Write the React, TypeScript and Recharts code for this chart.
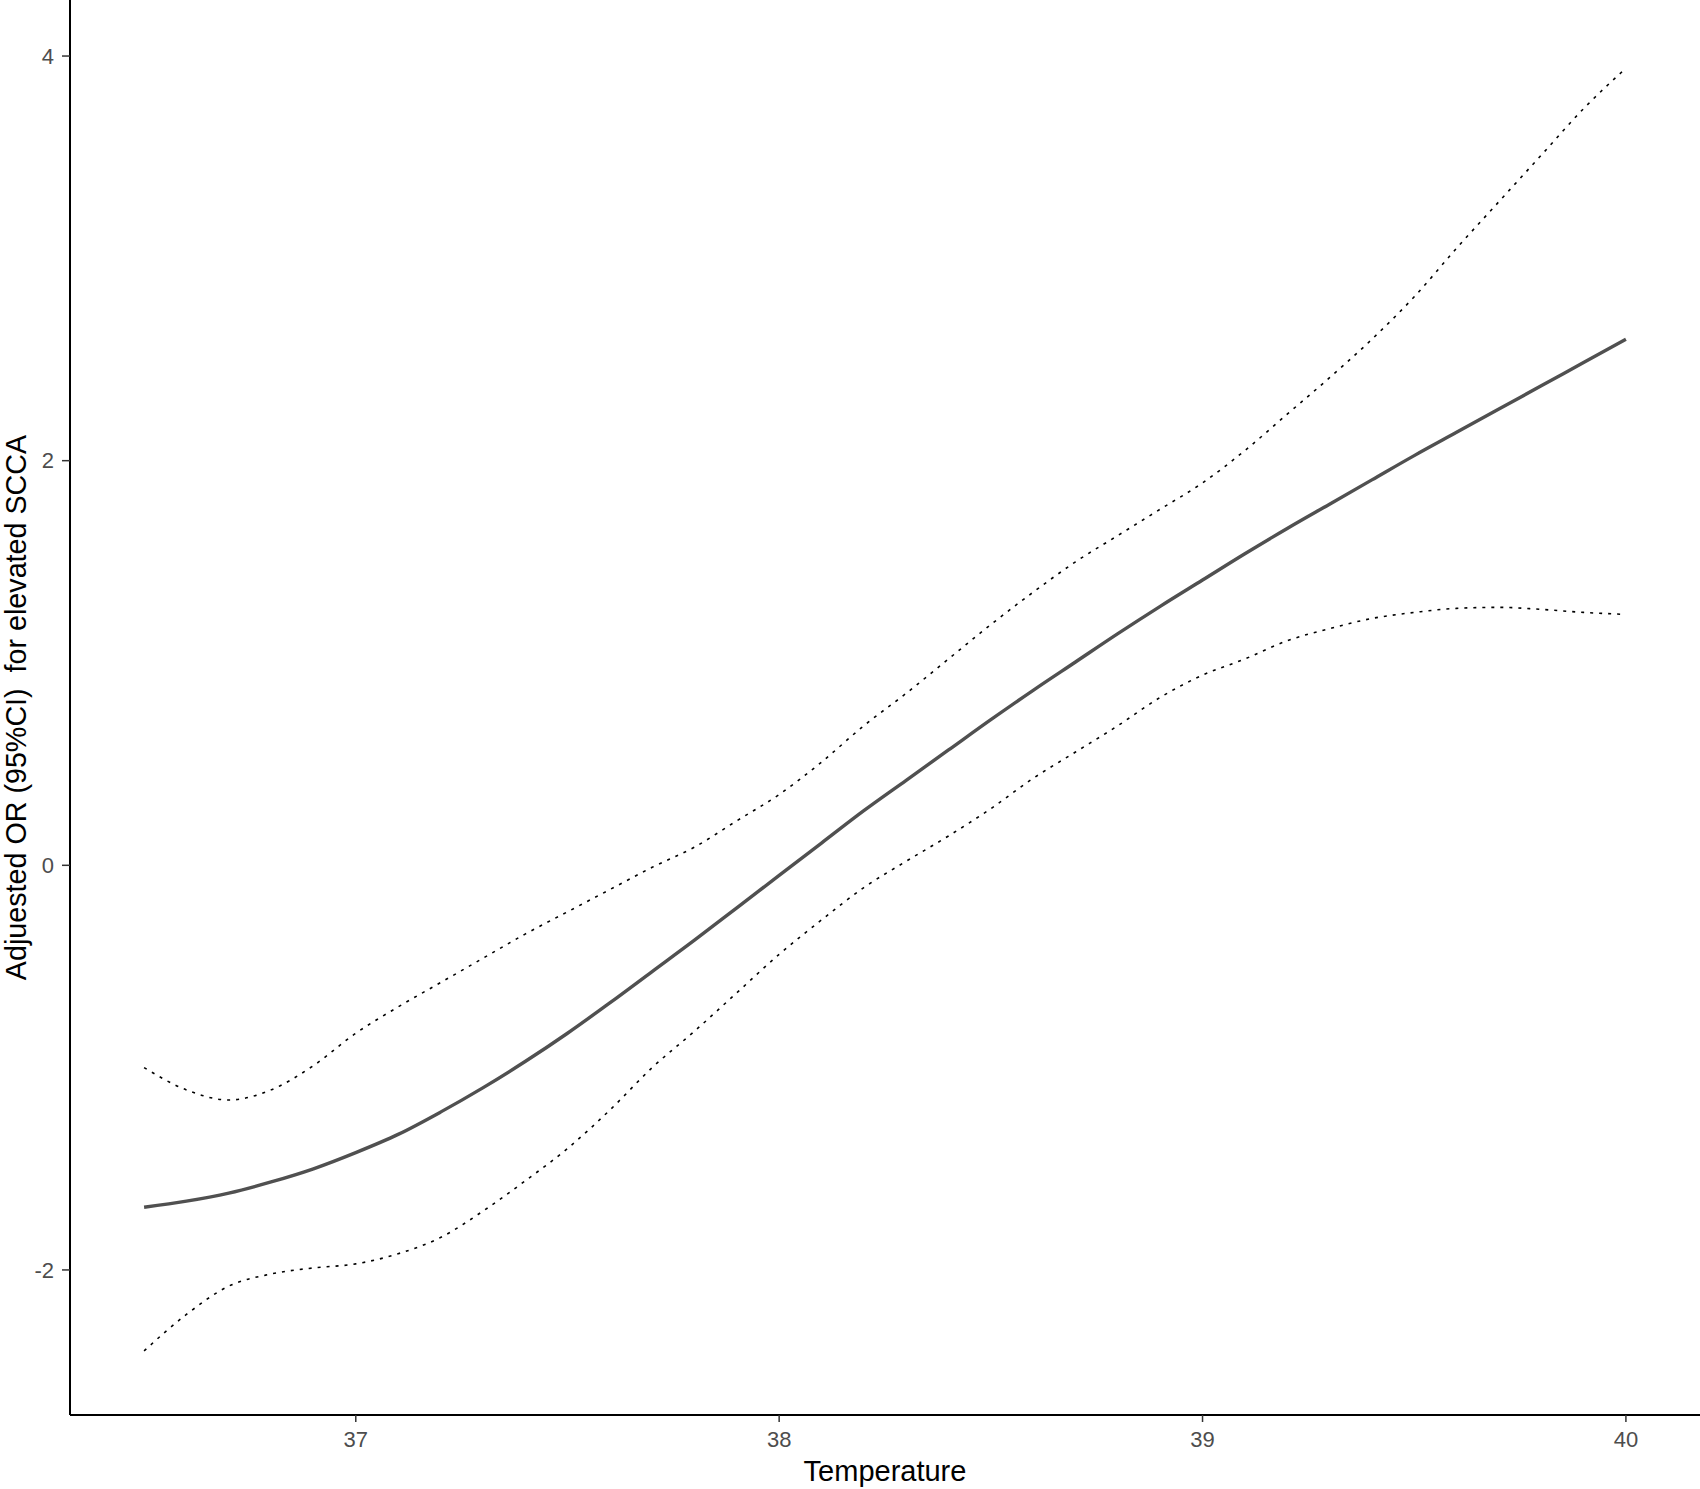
import React from 'react';
import { LineChart, Line, XAxis, YAxis } from 'recharts';

const temperatures = [
  36.5, 36.6, 36.7, 36.8, 36.9, 37.0, 37.1, 37.2, 37.3, 37.4, 37.5, 37.6,
  37.7, 37.8, 37.9, 38.0, 38.1, 38.2, 38.3, 38.4, 38.5, 38.6, 38.7, 38.8,
  38.9, 39.0, 39.1, 39.2, 39.3, 39.4, 39.5, 39.6, 39.7, 39.8, 39.9, 40.0,
];

const fitValues = [
  -1.69, -1.66, -1.62, -1.565, -1.5, -1.42, -1.33, -1.22, -1.1, -0.97, -0.83, -0.68,
  -0.525, -0.37, -0.21, -0.05, 0.11, 0.27, 0.42, 0.57, 0.72, 0.865, 1.005, 1.145,
  1.28, 1.41, 1.54, 1.665, 1.785, 1.905, 2.025, 2.14, 2.255, 2.37, 2.485, 2.6,
];

const upperValues = [
  -1.0, -1.11, -1.16, -1.11, -0.99, -0.83, -0.7, -0.58, -0.46, -0.34, -0.23, -0.12,
  -0.01, 0.09, 0.22, 0.35, 0.51, 0.69, 0.85, 1.02, 1.19, 1.35, 1.5, 1.63,
  1.76, 1.89, 2.05, 2.23, 2.41, 2.6, 2.81, 3.05, 3.28, 3.51, 3.74, 3.94,
];

const lowerValues = [
  -2.4, -2.22, -2.08, -2.02, -1.99, -1.97, -1.92, -1.84, -1.71, -1.56, -1.4, -1.21,
  -1.0, -0.82, -0.63, -0.44, -0.27, -0.11, 0.02, 0.145, 0.28, 0.43, 0.56, 0.69,
  0.83, 0.94, 1.02, 1.11, 1.17, 1.22, 1.25, 1.27, 1.275, 1.265, 1.25, 1.24,
];

const xTicks = [37, 38, 39, 40];
const yTicks = [-2, 0, 2, 4];

const data = temperatures.map((t, i) => ({
  t,
  fit: fitValues[i],
  upper: upperValues[i],
  lower: lowerValues[i],
}));

const FONT = '"Liberation Sans", Arial, sans-serif';

export default function App() {
  return (
    <div style={{ position: 'absolute', left: 0, top: 0, width: 1700, height: 1489, background: '#fff' }}>
      <LineChart
        width={1700}
        height={1489}
        data={data}
        margin={{ top: 0, right: 0, bottom: 0, left: 0 }}
      >
        <XAxis
          dataKey="t"
          type="number"
          domain={[36.325, 40.175]}
          ticks={xTicks}
          allowDataOverflow
          height={74}
          axisLine={{ stroke: '#000', strokeWidth: 2 }}
          tickLine={{ stroke: '#333', strokeWidth: 1.5 }}
          tickSize={7}
          tickMargin={9}
          tick={{ fill: '#4D4D4D', fontSize: 22, fontFamily: FONT }}
          label={{
            value: 'Temperature',
            position: 'insideBottom',
            offset: 8,
            style: { fill: '#000', fontSize: 29, fontFamily: FONT },
          }}
        />
        <YAxis
          type="number"
          domain={[-2.717, 4.277]}
          ticks={yTicks}
          allowDataOverflow
          width={70}
          axisLine={{ stroke: '#000', strokeWidth: 2 }}
          tickLine={{ stroke: '#333', strokeWidth: 1.5 }}
          tickSize={8}
          tickMargin={8}
          tick={{ fill: '#4D4D4D', fontSize: 22, fontFamily: FONT }}
          label={{
            value: 'Adjuested OR (95%CI)\u00A0 for elevated SCCA',
            angle: -90,
            position: 'insideLeft',
            offset: 16,
            style: { fill: '#000', fontSize: 28.7, fontFamily: FONT, textAnchor: 'middle' },
          }}
        />
        <Line
          type="monotone"
          dataKey="upper"
          stroke="#000"
          strokeWidth={1.6}
          strokeDasharray="3 6"
          dot={false}
          activeDot={false}
          isAnimationActive={false}
        />
        <Line
          type="monotone"
          dataKey="lower"
          stroke="#000"
          strokeWidth={1.6}
          strokeDasharray="3 6"
          dot={false}
          activeDot={false}
          isAnimationActive={false}
        />
        <Line
          type="monotone"
          dataKey="fit"
          stroke="#505050"
          strokeWidth={3.4}
          dot={false}
          activeDot={false}
          isAnimationActive={false}
        />
      </LineChart>
    </div>
  );
}
